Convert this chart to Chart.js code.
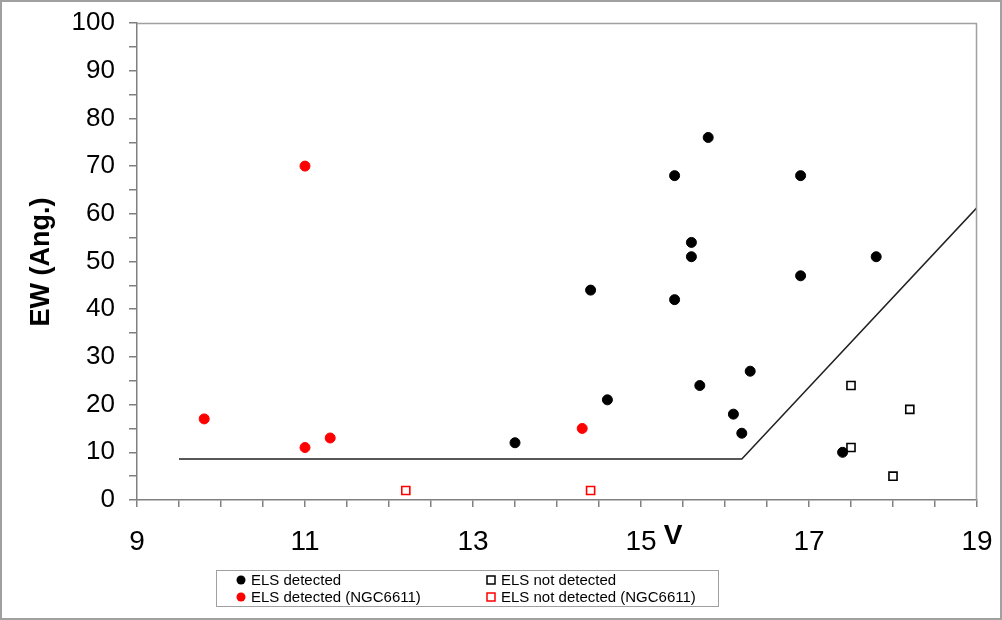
<!DOCTYPE html>
<html>
<head>
<meta charset="utf-8">
<script src="https://cdn.jsdelivr.net/npm/chart.js@4.4.1/dist/chart.umd.min.js"></script>
<style>
  html, body { margin: 0; padding: 0; background: #fff; }
  canvas { display: block; }
</style>
</head>
<body>
<canvas id="grafico" width="1002" height="620"></canvas>
<script>
// ELS detected (black dots)
const detV  = [13.5, 14.4, 14.6, 15.4, 15.4, 15.6, 15.6, 15.7, 15.8, 16.1, 16.2, 16.3, 16.9, 16.9, 17.8, 17.4];
const detEW = [12,   44,   21,   68,   42,   54,   51,   24,   76,   18,   14,   27,   68,   47,   51,   10];

// ELS detected in NGC6611 (red dots)
const ngcDetV  = [9.8, 11.0, 11.0, 11.3, 14.3];
const ngcDetEW = [17,  70,   11,   13,   15];

// ELS not detected (open black squares)
const nondetV  = [17.5, 17.5, 18.2, 18.0];
const nondetEW = [24,   11,   19,   5];

// ELS not detected in NGC6611 (open red squares)
const ngcNondetV  = [12.2, 14.4];
const ngcNondetEW = [2,    2];

// limit line
const limitV  = [9.5, 16.2, 19.0];
const limitEW = [8.6, 8.6, 61.3];

const xLabels = [9, 11, 13, 15, 17, 19];
const yLabels = [0, 10, 20, 30, 40, 50, 60, 70, 80, 90, 100];

const toPts = (xs, ys) => xs.map((x, i) => ({ x: x, y: ys[i] }));

const datasets = [
  { label: 'ELS detected', data: toPts(detV, detEW), pointStyle: 'circle', pointRadius: 5,
    backgroundColor: '#000', borderColor: '#000', borderWidth: 1 },
  { label: 'ELS not detected', data: toPts(nondetV, nondetEW), pointStyle: 'rect', pointRadius: 5.7,
    backgroundColor: '#fff', borderColor: '#000', borderWidth: 1.6 },
  { label: 'ELS detected (NGC6611)', data: toPts(ngcDetV, ngcDetEW), pointStyle: 'circle', pointRadius: 5,
    backgroundColor: '#ff0000', borderColor: '#ff0000', borderWidth: 1 },
  { label: 'ELS not detected (NGC6611)', data: toPts(ngcNondetV, ngcNondetEW), pointStyle: 'rect', pointRadius: 5.7,
    backgroundColor: '#fff', borderColor: '#ff0000', borderWidth: 1.6 },
  { label: 'limit', data: toPts(limitV, limitEW), showLine: true, pointRadius: 0,
    borderColor: '#222', borderWidth: 1.5, fill: false, tension: 0 }
];

// marco, títulos y leyenda dibujados a mano
const extras = {
  id: 'extras',
  afterDraw(chart) {
    const ctx = chart.ctx;
    const a = chart.chartArea;
    ctx.save();
    // borde superior y derecho del área
    ctx.strokeStyle = '#a0a0a0';
    ctx.lineWidth = 1.5;
    ctx.beginPath();
    ctx.moveTo(a.left, a.top + 0.5);
    ctx.lineTo(a.right - 0.5, a.top + 0.5);
    ctx.lineTo(a.right - 0.5, a.bottom);
    ctx.stroke();

    // marco exterior
    ctx.strokeStyle = '#a0a0a0';
    ctx.lineWidth = 2;
    ctx.strokeRect(1, 1, chart.width - 2, chart.height - 2);

    // título eje Y
    ctx.fillStyle = '#000';
    ctx.font = 'bold 27px "Liberation Sans", Arial, sans-serif';
    ctx.textAlign = 'center';
    ctx.textBaseline = 'middle';
    ctx.translate(42, 262);
    ctx.rotate(-Math.PI / 2);
    ctx.fillText('EW (Ang.)', 0, 0);
    ctx.setTransform(1, 0, 0, 1, 0, 0);

    // título eje X
    ctx.font = 'bold 28px "Liberation Sans", Arial, sans-serif';
    ctx.fillText('V', 673, 536);

    // leyenda
    ctx.strokeStyle = '#a0a0a0';
    ctx.lineWidth = 1;
    ctx.strokeRect(216.5, 570.5, 502, 36);
    ctx.font = '15px "Liberation Sans", Arial, sans-serif';
    ctx.textAlign = 'left';
    const cols = [241, 491];
    const rows = [580, 597];
    chart.data.datasets.slice(0, 4).forEach((ds, i) => {
      const cx = cols[i % 2];
      const cy = rows[Math.floor(i / 2)];
      ctx.fillStyle = ds.backgroundColor;
      ctx.strokeStyle = ds.borderColor;
      if (ds.pointStyle === 'circle') {
        ctx.beginPath();
        ctx.arc(cx, cy, 4.5, 0, Math.PI * 2);
        ctx.fill();
      } else {
        ctx.lineWidth = 1.5;
        ctx.fillRect(cx - 4, cy - 4, 8, 8);
        ctx.strokeRect(cx - 4, cy - 4, 8, 8);
      }
      ctx.fillStyle = '#000';
      ctx.fillText(ds.label, cx + 10, cy + 1);
    });
    ctx.restore();
  }
};

new Chart(document.getElementById('grafico').getContext('2d'), {
  type: 'scatter',
  data: { datasets: datasets },
  options: {
    responsive: false,
    animation: false,
    layout: { padding: { left: 0, top: 23, right: 25, bottom: 0 } },
    plugins: { legend: { display: false }, tooltip: { enabled: false } },
    scales: {
      x: {
        type: 'linear', min: 9, max: 19,
        afterFit: s => { s.height = 120; s.paddingLeft = 0; s.paddingRight = 0; },
        afterBuildTicks: s => {
          const t = [];
          for (let v = 9; v <= 19.001; v += 0.5) t.push({ value: v });
          s.ticks = t;
        },
        ticks: {
          font: { size: 28, family: '"Liberation Sans", Arial, sans-serif' },
          color: '#000', padding: 18, maxRotation: 0, autoSkip: false,
          callback: v => xLabels.includes(v) ? String(v) : ''
        },
        grid: { drawOnChartArea: false, drawTicks: true, tickLength: 7, color: '#808080', lineWidth: 1.5 },
        border: { color: '#808080', width: 1.5 }
      },
      y: {
        type: 'linear', min: 0, max: 100,
        afterFit: s => { s.width = 137; s.paddingTop = 0; s.paddingBottom = 0; },
        afterBuildTicks: s => {
          const t = [];
          for (let v = 0; v <= 100; v += 5) t.push({ value: v });
          s.ticks = t;
        },
        ticks: {
          font: { size: 26, family: '"Liberation Sans", Arial, sans-serif' },
          color: '#000', padding: 14, autoSkip: false,
          callback: v => yLabels.includes(v) ? String(v) : ''
        },
        grid: { drawOnChartArea: false, drawTicks: true, tickLength: 8, color: '#808080', lineWidth: 1.5 },
        border: { color: '#808080', width: 1.5 }
      }
    }
  },
  plugins: [extras]
});
</script>
</body>
</html>
